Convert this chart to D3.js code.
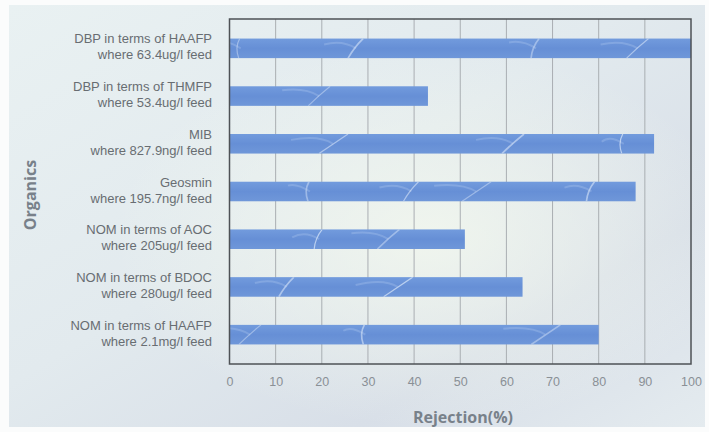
<!DOCTYPE html>
<html lang="en">
<head>
  <meta charset="UTF-8">
  <title>Organics Rejection</title>
  <script src="https://d3js.org/d3.v7.min.js"></script>
  <style>
    body {
      margin: 0;
      background: #ffffff;
      font-family: "Open Sans", "Noto Sans", Arial, sans-serif;
    }
    .cat-label {
      font-family: "Liberation Sans", Arial, sans-serif;
      font-size: 13px;
      fill: #686d72;
      text-anchor: end;
    }
    .tick text {
      font-size: 12.5px;
      fill: #8a9096;
    }
    .axis-title {
      font-size: 16px;
      font-weight: bold;
      fill: #78818a;
    }
  </style>
</head>
<body>
  <div id="chart"></div>

  <script>
    // data
    const organics = [
      "DBP in terms of HAAFP",
      "DBP in terms of THMFP",
      "MIB",
      "Geosmin",
      "NOM in terms of AOC",
      "NOM in terms of BDOC",
      "NOM in terms of HAAFP "
    ];
    const feeds = [
      "where 63.4ug/l feed",
      "where 53.4ug/l feed",
      "where 827.9ng/l feed",
      "where 195.7ng/l feed",
      "where 205ug/l feed",
      "where 280ug/l feed",
      "where 2.1mg/l feed"
    ];
    const rejection = [100, 43, 92, 88, 51, 63.5, 80];
    const xTicks = [0, 10, 20, 30, 40, 50, 60, 70, 80, 90, 100];

    const width = 709, height = 432;
    const plot = { left: 229.5, right: 691, top: 19, bottom: 364 };

    const svg = d3.select("#chart").append("svg")
      .attr("width", width)
      .attr("height", height);

    const defs = svg.append("defs");

    // soft background
    const bg = defs.append("linearGradient").attr("id", "bg")
      .attr("x1", 0).attr("y1", 0).attr("x2", 1).attr("y2", 1);
    bg.append("stop").attr("offset", "0%").attr("stop-color", "#e9f1f2");
    bg.append("stop").attr("offset", "45%").attr("stop-color", "#e2eaee");
    bg.append("stop").attr("offset", "75%").attr("stop-color", "#d8dfe8");
    bg.append("stop").attr("offset", "100%").attr("stop-color", "#e4ebef");

    const glow = defs.append("radialGradient").attr("id", "glow")
      .attr("cx", 0.6).attr("cy", 0.55).attr("r", 0.45);
    glow.append("stop").attr("offset", "0%").attr("stop-color", "#f3f8ee").attr("stop-opacity", 0.85);
    glow.append("stop").attr("offset", "100%").attr("stop-color", "#f3f8ee").attr("stop-opacity", 0);

    const barGrad = defs.append("linearGradient").attr("id", "barGrad")
      .attr("x1", 0).attr("y1", 0).attr("x2", 0).attr("y2", 1);
    barGrad.append("stop").attr("offset", "0%").attr("stop-color", "#729bdd");
    barGrad.append("stop").attr("offset", "50%").attr("stop-color", "#668fd6");
    barGrad.append("stop").attr("offset", "100%").attr("stop-color", "#6f97d9");

    svg.append("rect").attr("width", width).attr("height", height).attr("fill", "#fbfcfc");
    svg.append("rect").attr("x", 9).attr("y", 5).attr("width", 696).attr("height", 422).attr("fill", "url(#bg)");
    svg.append("rect").attr("x", 9).attr("y", 5).attr("width", 696).attr("height", 422).attr("fill", "url(#glow)");

    const x = d3.scaleLinear().domain([0, 100]).range([plot.left, plot.right]);
    const y = d3.scaleBand().domain(organics)
      .range([plot.top, plot.bottom])
      .paddingInner(0.59)
      .paddingOuter(0.41);

    // grid
    svg.append("g")
      .selectAll("line")
      .data(xTicks.slice(1, -1))
      .join("line")
      .attr("x1", d => x(d)).attr("x2", d => x(d))
      .attr("y1", plot.top).attr("y2", plot.bottom)
      .attr("stroke", "#a9aeb2")
      .attr("stroke-width", 1);

    // bars
    svg.append("g")
      .selectAll("rect")
      .data(organics)
      .join("rect")
      .attr("x", x(0))
      .attr("y", d => y(d))
      .attr("width", (d, i) => x(rejection[i]) - x(0))
      .attr("height", y.bandwidth())
      .attr("fill", "url(#barGrad)");

    // a few irregular light streaks, water look
    const streakAt = [0.02, 0.27, 0.51, 0.66, 0.88];
    organics.forEach((d, i) => {
      const clipId = "clip" + i;
      defs.append("clipPath").attr("id", clipId)
        .append("rect")
        .attr("x", x(0)).attr("y", y(d))
        .attr("width", x(rejection[i]) - x(0))
        .attr("height", y.bandwidth());
      const g = svg.append("g").attr("clip-path", `url(#${clipId})`);
      const top = y(d), bh = y.bandwidth();
      streakAt.forEach((s, k) => {
        if ((k + i) % 3 === 2) return;
        const cx = x(0) + (x(100) - x(0)) * ((s + i * 0.17) % 1);
        const lean = ((k * 7 + i * 3) % 5) - 2;
        const p = d3.path();
        p.moveTo(cx - 6 - lean * 3, top + bh);
        p.quadraticCurveTo(cx + lean * 2, top + bh * 0.45, cx + 9 + lean * 4, top);
        g.append("path").attr("d", p.toString())
          .attr("fill", "none")
          .attr("stroke", "#eef6ff")
          .attr("stroke-opacity", 0.4 + 0.1 * (k % 3))
          .attr("stroke-width", 1.2 + 0.5 * (k % 2));
        const p2 = d3.path();
        p2.moveTo(cx - 30 - lean * 5, top + bh * (0.2 + 0.1 * (k % 3)));
        p2.quadraticCurveTo(cx - 12, top + bh * 0.05, cx + 2, top + bh * 0.5);
        g.append("path").attr("d", p2.toString())
          .attr("fill", "none")
          .attr("stroke", "#dbeaff")
          .attr("stroke-opacity", 0.2)
          .attr("stroke-width", 2);
      });
    });

    // frame
    svg.append("rect")
      .attr("x", plot.left).attr("y", plot.top)
      .attr("width", plot.right - plot.left)
      .attr("height", plot.bottom - plot.top)
      .attr("fill", "none")
      .attr("stroke", "#4e5256")
      .attr("stroke-width", 1.5);

    // category labels, two lines each
    const labels = svg.append("g");
    labels.selectAll("text.name")
      .data(organics)
      .join("text")
      .attr("class", "cat-label name")
      .attr("x", 212)
      .attr("y", d => y(d) + y.bandwidth() / 2 - 5)
      .text(d => d.trim());
    labels.selectAll("text.feed")
      .data(organics)
      .join("text")
      .attr("class", "cat-label feed")
      .attr("x", 212)
      .attr("y", d => y(d) + y.bandwidth() / 2 + 11)
      .text((d, i) => feeds[i]);

    // x axis labels
    const xAxis = svg.append("g")
      .attr("transform", `translate(0,${plot.bottom})`)
      .call(d3.axisBottom(x).tickValues(xTicks).tickSize(0).tickPadding(13));
    xAxis.select(".domain").remove();

    svg.append("text").attr("class", "axis-title")
      .attr("x", 463).attr("y", 423)
      .attr("text-anchor", "middle")
      .text("Rejection(%)");

    svg.append("text").attr("class", "axis-title")
      .attr("transform", "translate(36,195) rotate(-90)")
      .attr("text-anchor", "middle")
      .text("Organics");
  </script>
</body>
</html>
